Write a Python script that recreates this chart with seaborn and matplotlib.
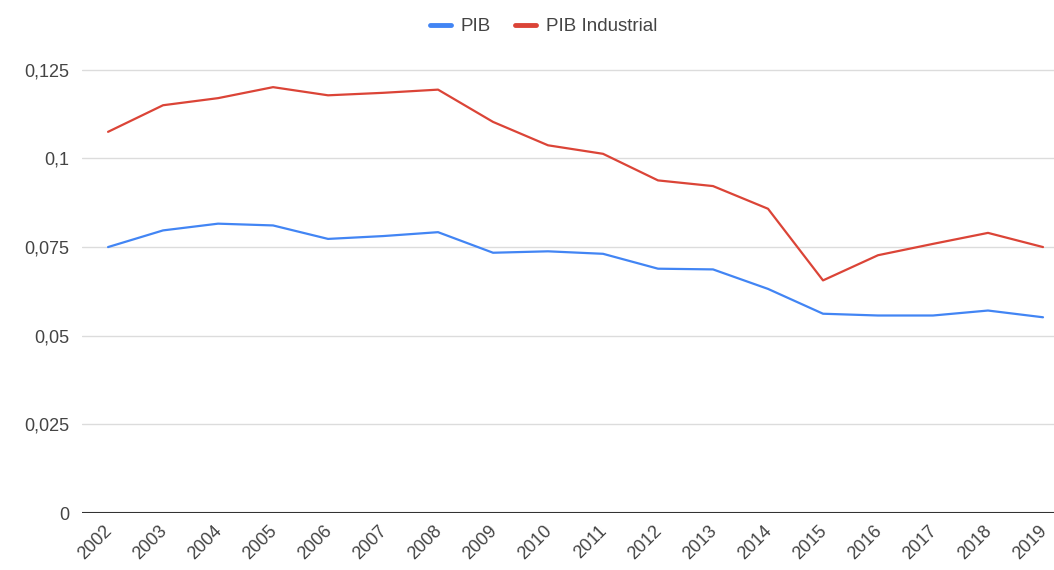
import pandas as pd
import matplotlib.pyplot as plt
import matplotlib.transforms as mtrans
import seaborn as sns
from matplotlib.ticker import FuncFormatter

# Data
years = [str(y) for y in range(2002, 2020)]
pib = [0.0750, 0.0797, 0.0816, 0.0811, 0.0773, 0.0781, 0.0792, 0.0734, 0.0738,
       0.0731, 0.0689, 0.0687, 0.0632, 0.0562, 0.0557, 0.0557, 0.0571, 0.0552]
pib_industrial = [0.1075, 0.1150, 0.1170, 0.1201, 0.1178, 0.1185, 0.1194, 0.1103, 0.1037,
                  0.1013, 0.0938, 0.0922, 0.0858, 0.0656, 0.0727, 0.0759, 0.0790, 0.0750]
series_names = ["PIB", "PIB Industrial"]
y_ticks = [0, 0.025, 0.05, 0.075, 0.1, 0.125]

df = pd.DataFrame({"Ano": years * 2,
                   "Valor": pib + pib_industrial,
                   "Serie": [series_names[0]] * len(years) + [series_names[1]] * len(years)})

sns.set_theme(style="white")
plt.rcParams['font.family'] = ['Liberation Sans', 'DejaVu Sans']

fig = plt.figure(figsize=(10.54, 5.70), dpi=100)
ax = fig.add_axes([0.078, 0.1, 0.922, 0.795])

colors = {"PIB": "#4285f4", "PIB Industrial": "#db4437"}
sns.lineplot(data=df, x="Ano", y="Valor", hue="Serie", palette=colors,
             linewidth=1.6, ax=ax, legend=False)

ax.set_xlim(-0.47, 17.2)
ax.set_ylim(0, 0.1278)
ax.set_yticks(y_ticks)
ax.yaxis.set_major_formatter(FuncFormatter(lambda v, p: ("%g" % v).replace(".", ",")))
ax.grid(axis="y", color="#dcdcdc", linewidth=1)
ax.set_axisbelow(True)
for s in ["top", "right", "left", "bottom"]:
    ax.spines[s].set_visible(False)
ax.axhline(0, color="#333333", linewidth=1.5, zorder=3)

ax.tick_params(axis="y", length=0, pad=9, labelsize=13, labelcolor="#444444")
ax.tick_params(axis="x", length=0, pad=7, labelsize=13, labelcolor="#444444")
shift = mtrans.ScaledTranslation(-5 / 100, 0, fig.dpi_scale_trans)
for lbl in ax.get_xticklabels():
    lbl.set_rotation(45)
    lbl.set_ha("right")
    lbl.set_rotation_mode("anchor")
    lbl.set_transform(lbl.get_transform() + shift)
ax.set_xlabel("")
ax.set_ylabel("")

# Legend at the top
handles = [plt.Line2D([], [], color=colors[n], linewidth=3.5) for n in series_names]
fig.legend(handles, series_names, loc="center", bbox_to_anchor=(0.516, 0.953),
           ncol=2, frameon=False, fontsize=13.5, handlelength=1.1, handletextpad=0.55,
           columnspacing=1.3, labelcolor="#444444")

plt.savefig("out.png", dpi=100)
